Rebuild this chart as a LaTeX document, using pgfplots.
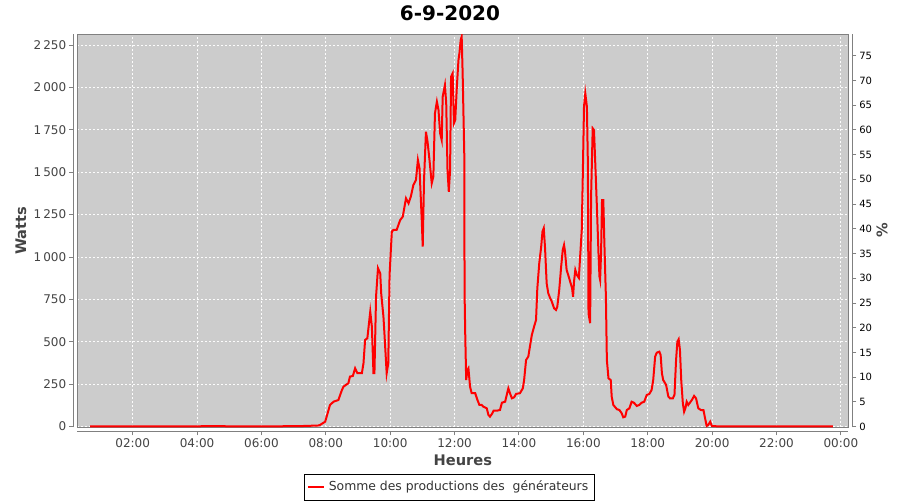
\documentclass[border=0pt]{standalone}
\usepackage{fontspec}
\setmainfont{DejaVu Sans}
\usepackage{pgfplots}
\pgfplotsset{compat=1.18}
\definecolor{plotbg}{RGB}{204,204,204}
\definecolor{axgray}{RGB}{128,128,128}
\definecolor{lblgray}{RGB}{68,68,68}
\begin{document}
\begin{tikzpicture}
\path[use as bounding box] (0,0) rectangle (450pt,250pt);
\begin{axis}[
  name=main,
  scale only axis, width=385.5pt, height=196.65pt,
  at={(38.65pt,36.35pt)}, anchor=south west,
  xmin=0.28, xmax=24.23, ymin=-4, ymax=2315,
  axis background/.style={fill=plotbg},
  axis line style={draw=axgray, line width=0.5pt},
  xtick={2,4,...,24},
  xticklabels={02:00,04:00,06:00,08:00,10:00,12:00,14:00,16:00,18:00,20:00,22:00,00:00},
  ytick={0,250,...,2250},
  xtick pos=bottom, ytick pos=left,
  tick align=outside, major tick length=2pt,
  xtick style={draw=axgray, yshift=-2pt, line width=0.5pt},
  ytick style={draw=axgray, xshift=-2pt, line width=0.5pt},
  tick label style={font=\fontsize{6}{7}\selectfont, text=lblgray},
  /pgf/number format/.cd, 1000 sep={\,}, assume math mode=true, /pgfplots/.cd,
  grid=major,
  major grid style={draw=white!95!plotbg, line width=0.5pt, dash pattern=on 1pt off 1pt},
  xlabel={Heures},
  xlabel style={font=\bfseries\fontsize{7.3}{9}\selectfont, text=lblgray, at={(0.5,-0.0831)}, anchor=center},
  ylabel={Watts},
  ylabel style={font=\bfseries\fontsize{7.3}{9}\selectfont, text=lblgray, at={(-0.073,0.5)}, anchor=center, rotate=0},
  legend style={at={(0.4828,-0.153)}, anchor=center, draw=black, line width=0.5pt,
    font=\fontsize{6.2}{7.5}\selectfont, text=black!80, inner xsep=1pt, inner ysep=1.5pt,
    /tikz/every even column/.append style={column sep=2pt}},
  legend image code/.code={\draw[red, line width=1pt] (0pt,0pt) -- (8pt,0pt);},
]
\addplot[red, line width=1pt, mark=none] coordinates {
(0.68,2) (1.5,1) (2.5,2) (3.5,1) (4.5,3) (5.5,1) (6.5,2) (7.2,3) (7.5,5) (7.75,6)
(7.82,10) (7.98,29) (8.13,128) (8.24,147) (8.39,157) (8.50,216) (8.55,236) (8.70,256)
(8.75,295) (8.84,299) (8.91,344) (8.98,315) (9.12,315) (9.17,374) (9.22,511) (9.29,521)
(9.38,678) (9.43,590) (9.48,315) (9.51,315) (9.56,766) (9.62,934) (9.69,904) (9.72,786)
(9.79,648) (9.82,551) (9.89,315) (9.94,374) (9.98,894) (10.05,1150) (10.10,1160)
(10.20,1160) (10.31,1218) (10.39,1238) (10.49,1346) (10.57,1317) (10.64,1356)
(10.72,1425) (10.80,1454) (10.86,1572) (10.91,1523) (10.98,1218) (11.01,1061)
(11.05,1450) (11.11,1739) (11.16,1680) (11.22,1572) (11.29,1435) (11.34,1474)
(11.39,1847) (11.45,1916) (11.50,1867) (11.55,1730) (11.60,1690) (11.63,1945)
(11.70,2014) (11.74,1906) (11.78,1513) (11.82,1385) (11.86,1513) (11.89,2063)
(11.94,2083) (11.98,1789) (12.02,1808) (12.07,2004) (12.12,2161) (12.15,2201)
(12.19,2280) (12.22,2299) (12.25,2083) (12.30,1612) (12.31,788) (12.33,551)
(12.36,275) (12.40,334) (12.43,344) (12.48,236) (12.53,197) (12.64,197) (12.71,157)
(12.77,128) (12.84,128) (12.89,118) (13.00,108) (13.05,69) (13.10,59) (13.16,75)
(13.21,94) (13.31,94) (13.41,98) (13.47,141) (13.57,147) (13.62,187) (13.67,226)
(13.72,197) (13.78,167) (13.85,173) (13.91,193) (14.03,197) (14.12,226) (14.16,275)
(14.22,393) (14.29,413) (14.34,472) (14.40,541) (14.47,590) (14.53,629) (14.57,816)
(14.63,963) (14.69,1061) (14.73,1150) (14.77,1170) (14.81,1052) (14.86,845)
(14.91,786) (14.97,757) (15.02,737) (15.09,698) (15.15,688) (15.19,707) (15.25,806)
(15.31,943) (15.36,1042) (15.40,1071) (15.43,1032) (15.48,924) (15.53,894)
(15.59,855) (15.65,816) (15.68,766) (15.71,855) (15.75,924) (15.80,894) (15.86,877)
(15.90,1002) (15.95,1160) (15.98,1454) (16.02,1886) (16.06,1965) (16.11,1886)
(16.14,1553) (16.16,668) (16.21,610) (16.24,1356) (16.29,1759) (16.33,1749)
(16.37,1553) (16.42,1297) (16.47,1022) (16.50,884) (16.52,865) (16.55,1022)
(16.58,1336) (16.62,1336) (16.65,1101) (16.70,766) (16.73,393) (16.78,285)
(16.85,275) (16.88,177) (16.93,128) (17.04,103) (17.12,98) (17.19,79) (17.24,55)
(17.30,59) (17.35,98) (17.43,108) (17.50,147) (17.57,141) (17.66,122) (17.74,128)
(17.81,141) (17.89,147) (17.97,187) (18.05,193) (18.12,216) (18.17,275) (18.23,413)
(18.28,436) (18.36,442) (18.40,423) (18.44,315) (18.48,275) (18.57,246) (18.64,177)
(18.69,167) (18.78,167) (18.83,187) (18.88,393) (18.92,501) (18.96,515) (19.00,452)
(19.04,275) (19.09,138) (19.13,88) (19.17,108) (19.21,147) (19.26,128) (19.31,141)
(19.37,157) (19.44,181) (19.50,167) (19.57,108) (19.65,98) (19.73,98) (19.78,50)
(19.83,4) (19.88,10) (19.94,29) (19.99,4) (20.14,2) (21,1) (22,2) (23,1) (23.75,1)
};
\addlegendentry{Somme des productions des\ \ générateurs}
\end{axis}
\begin{axis}[
  scale only axis, width=385.5pt, height=196.65pt,
  at={(38.65pt,36.35pt)}, anchor=south west,
  xmin=0.28, xmax=24.23, ymin=-0.12, ymax=79.38,
  axis line style={draw=none},
  xtick=\empty,
  ytick={0,5,...,75},
  ytick pos=right,
  tick align=outside, major tick length=2pt,
  ytick style={draw=axgray, xshift=2pt, line width=0.5pt},
  yticklabel style={font=\fontsize{5}{6}\selectfont, text=black},
  /pgf/number format/.cd, assume math mode=true, /pgfplots/.cd,
  ylabel={\%},
  ylabel style={font=\bfseries\fontsize{7.3}{9}\selectfont, text=lblgray, at={(1.0437,0.5)}, anchor=center, rotate=0},
]
\end{axis}
\node[font=\bfseries\fontsize{10}{12}\selectfont, anchor=center] at (225pt,243.5pt) {6-9-2020};
\draw[axgray, line width=0.5pt] ([yshift=-2pt]main.south west) -- ([yshift=-2pt]main.south east);
\draw[axgray, line width=0.5pt] ([xshift=-2pt]main.south west) -- ([xshift=-2pt]main.north west);
\draw[axgray, line width=0.5pt] ([xshift=2pt]main.south east) -- ([xshift=2pt]main.north east);
\end{tikzpicture}
\end{document}
